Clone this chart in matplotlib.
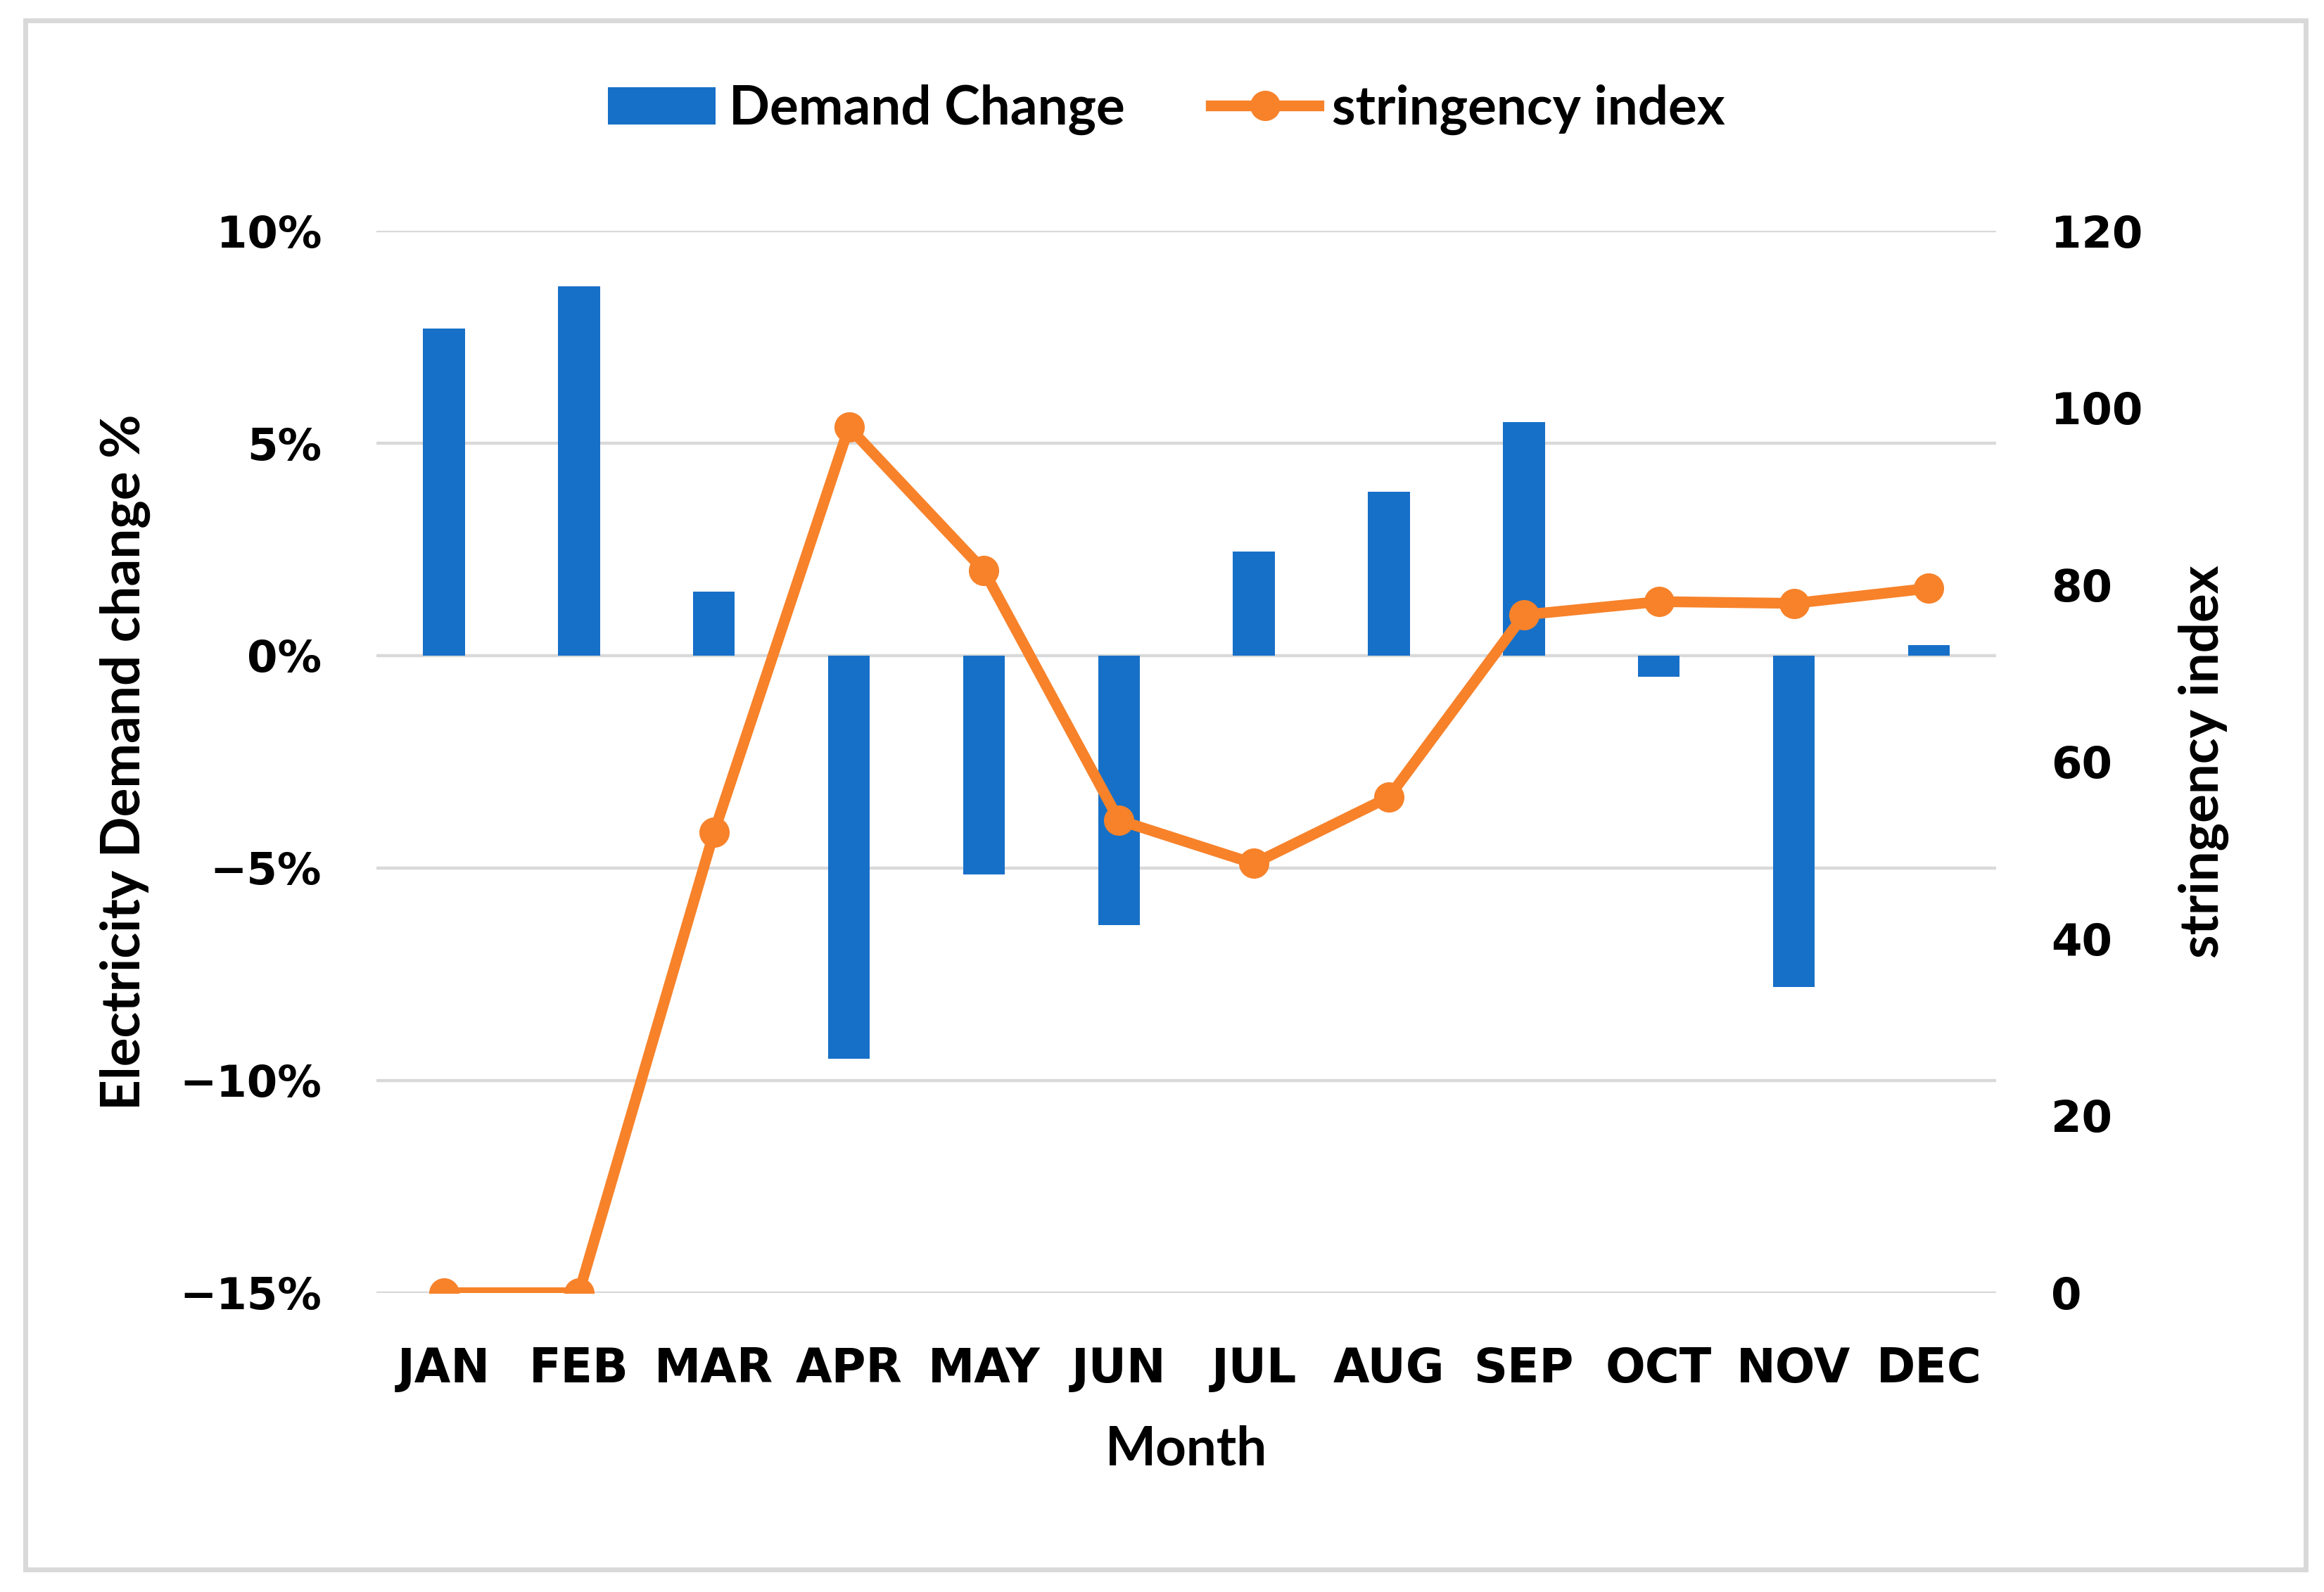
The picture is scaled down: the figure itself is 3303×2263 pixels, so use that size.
import numpy as np
import matplotlib
matplotlib.use('Agg')
from matplotlib import pyplot as plt
from matplotlib.patches import Rectangle

# data
months = ['JAN', 'FEB', 'MAR', 'APR', 'MAY', 'JUN',
          'JUL', 'AUG', 'SEP', 'OCT', 'NOV', 'DEC']
demand_change = [7.7, 8.7, 1.5, -9.5, -5.15, -6.35,
                 2.45, 3.85, 5.5, -0.5, -7.8, 0.25]
stringency = [0, 0, 52, 97.8, 81.6, 53.4,
              48.5, 56, 76.6, 78.1, 77.9, 79.6]
left_ticks = [-15, -10, -5, 0, 5, 10]
right_ticks = [0, 20, 40, 60, 80, 100, 120]

bar_color = '#1770C8'
line_color = '#F7822A'
grid_color = '#D9D9D9'

plt.rcParams['font.family'] = ['DejaVu Sans']

fig = plt.figure(figsize=(33.03, 22.63), dpi=100)
ax = fig.add_axes([0.162, 0.188, 0.697, 0.667])
ax2 = ax.twinx()

x = np.arange(len(months))
bars = ax.bar(x, demand_change, width=0.31, color=bar_color, zorder=3,
              label='Demand Change')
ax.set_xlim(-0.5, 11.5)
ax.set_ylim(-15, 10)
ax.set_yticks(left_ticks)
ax.set_yticklabels([('\u2212%d%%' % -t) if t < 0 else '%d%%' % t for t in left_ticks])
ax.yaxis.grid(True, color=grid_color, linewidth=3.2, zorder=0)
ax.set_axisbelow(True)
ax.set_xticks(x)
ax.set_xticklabels(months)

line, = ax2.plot(x, stringency, '-o', color=line_color, linewidth=11,
                 markersize=30, label='stringency index', zorder=4)
ax2.set_ylim(0, 120)
ax2.set_yticks(right_ticks)

for a in (ax, ax2):
    for s in a.spines.values():
        s.set_visible(False)
    a.tick_params(length=0, labelsize=45)
    for lbl in a.get_xticklabels() + a.get_yticklabels():
        lbl.set_fontweight('bold')

ax.tick_params(axis='y', pad=56)
ax.tick_params(axis='x', pad=54, labelsize=48)
ax2.tick_params(axis='y', pad=56)

label_font = dict(family='Lato', fontweight='bold', fontsize=55)
ax.set_ylabel('Electricity Demand change %', labelpad=30, **label_font)
ax2.set_ylabel('stringency index', labelpad=36, **label_font)
ax.set_xlabel('Month', labelpad=34, **label_font)

fig.legend(handles=[bars, line], loc='center', bbox_to_anchor=(0.502, 0.931),
           ncol=2, frameon=False, prop=dict(family='Lato', weight='bold', size=55),
           handlelength=2.0, handletextpad=0.25, columnspacing=1.6)

# outer border
fig.patches.append(Rectangle((0.011, 0.014), 0.981, 0.973, transform=fig.transFigure,
                             fill=False, edgecolor=grid_color, linewidth=5))

fig.savefig('out.png', dpi=100)
